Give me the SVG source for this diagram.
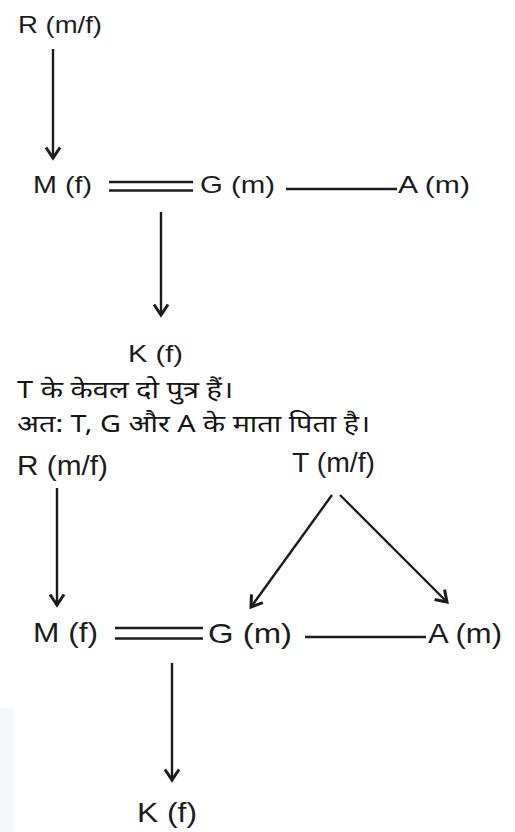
<svg xmlns="http://www.w3.org/2000/svg" width="515" height="832" viewBox="0 0 515 832">
<style>
.t{font-family:"Liberation Sans",Arial,sans-serif;fill:#1c1c1c}
.s{font-size:24.5px}
.b{font-size:27.5px}
.h{font-family:"Noto Sans","Noto Sans Devanagari","Lohit Devanagari",sans-serif;font-size:24px;fill:#141414}
.ln{stroke:#1c1c1c;stroke-width:2.4;fill:none}
</style>
<defs>
<marker id="ah" markerUnits="userSpaceOnUse" markerWidth="20" markerHeight="20" refX="14" refY="9" orient="auto">
<path d="M3.5,2 L14,9 L3.5,16" fill="none" stroke="#1c1c1c" stroke-width="3"/>
</marker>
</defs>
<rect x="0" y="708" width="14" height="124" fill="#f3f7fa"/>
<g id="connectors">
<line class="ln" x1="53" y1="49" x2="53" y2="158" marker-end="url(#ah)"/>
<line class="ln" x1="109" y1="182" x2="193" y2="182"/>
<line class="ln" x1="109" y1="190.5" x2="193" y2="190.5"/>
<line class="ln" x1="286" y1="189" x2="397" y2="189"/>
<line class="ln" x1="161" y1="212" x2="161" y2="315" marker-end="url(#ah)"/>
<line class="ln" x1="57" y1="488" x2="57" y2="605" marker-end="url(#ah)"/>
<line class="ln" x1="332" y1="495" x2="251" y2="607" marker-end="url(#ah)"/>
<line class="ln" x1="340" y1="495" x2="447" y2="602" marker-end="url(#ah)"/>
<line class="ln" x1="115" y1="628" x2="203" y2="628"/>
<line class="ln" x1="115" y1="638.5" x2="203" y2="638.5"/>
<line class="ln" x1="305" y1="637" x2="426" y2="637"/>
<line class="ln" x1="172" y1="663" x2="172" y2="780" marker-end="url(#ah)"/>
</g>
<g id="R1"><text class="t s" x="18" y="33" textLength="84" lengthAdjust="spacingAndGlyphs">R (m/f)</text></g>
<g id="M1"><text class="t s" x="33" y="193" textLength="59" lengthAdjust="spacingAndGlyphs">M (f)</text></g>
<g id="G1"><text class="t s" x="200" y="193" textLength="75" lengthAdjust="spacingAndGlyphs">G (m)</text></g>
<g id="A1"><text class="t s" x="398" y="193" textLength="72" lengthAdjust="spacingAndGlyphs">A (m)</text></g>
<g id="K1"><text class="t s" x="128" y="362" textLength="55" lengthAdjust="spacingAndGlyphs">K (f)</text></g>
<g id="note">
<text class="h" x="17" y="398" textLength="216" lengthAdjust="spacingAndGlyphs">T के केवल दो पुत्र हैं।</text>
<text class="h" x="17" y="432" textLength="353" lengthAdjust="spacingAndGlyphs">अत: T, G और A के माता पिता है।</text>
</g>
<g id="R2"><text class="t b" x="17" y="475" textLength="91" lengthAdjust="spacingAndGlyphs">R (m/f)</text></g>
<g id="T2"><text class="t b" x="292" y="472" textLength="83" lengthAdjust="spacingAndGlyphs">T (m/f)</text></g>
<g id="M2"><text class="t b" x="33" y="642" textLength="65" lengthAdjust="spacingAndGlyphs">M (f)</text></g>
<g id="G2"><text class="t b" x="208" y="643" textLength="84" lengthAdjust="spacingAndGlyphs">G (m)</text></g>
<g id="A2"><text class="t b" x="428" y="643" textLength="74" lengthAdjust="spacingAndGlyphs">A (m)</text></g>
<g id="K2"><text class="t b" x="137" y="822" textLength="60" lengthAdjust="spacingAndGlyphs">K (f)</text></g>
</svg>
